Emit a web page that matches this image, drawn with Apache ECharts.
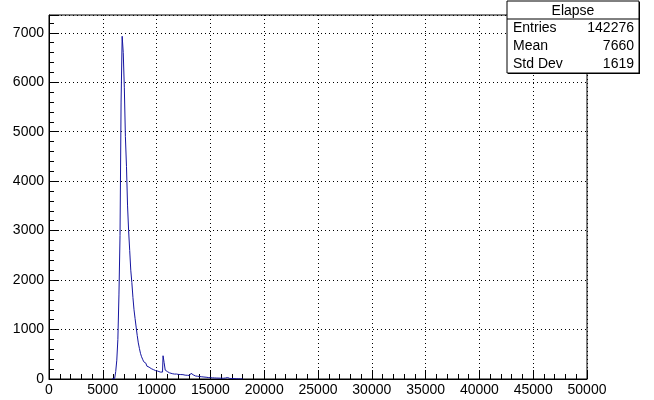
<!DOCTYPE html>
<html>
<head>
<meta charset="utf-8">
<script src="https://cdn.jsdelivr.net/npm/echarts@6/dist/echarts.min.js"></script>
<style>
  html, body { margin: 0; padding: 0; background: #fff; }
  #chart { width: 654px; height: 400px; }
</style>
</head>
<body>
<div id="chart"></div>
<script>
// Histogram "Elapse": bin width 100, bin centres and counts
var binWidth = 100;
var binStart = 5800;
var counts = [
  0, 0, 10, 40, 150, 380, 800, 1700, 2900, 5600,
  6930, 6600, 5900, 4900, 4300, 3500, 3000, 2600, 2200, 1950,
  1650, 1400, 1220, 1050, 880, 730, 620, 520, 450, 400,
  350, 320, 290, 260, 240, 225, 210, 200, 190, 180,
  170, 165, 160, 150, 145, 140, 135, 140, 470, 330,
  180, 150, 130, 125, 115, 110, 108, 105, 100, 98,
  100, 95, 92, 95, 90, 85, 88, 82, 78, 80,
  75, 70, 72, 80, 115, 85, 68, 62, 58, 55,
  52, 50, 48, 45, 42, 40, 38, 36, 33, 30,
  28, 26, 25, 24, 22, 21, 20, 19, 18, 18,
  17, 16, 16, 15, 15, 20, 35, 30, 15, 12,
  10, 10, 9, 8, 7, 6, 6, 5, 4, 3,
  2, 1, 0
];
var binCenters = counts.map(function (_, i) { return binStart + binWidth * (i + 0.5); });

var xTicks = [0, 5000, 10000, 15000, 20000, 25000, 30000, 35000, 40000, 45000, 50000];
var yTicks = [0, 1000, 2000, 3000, 4000, 5000, 6000, 7000];

var statsTitle = 'Elapse';
var statsLabels = ['Entries', 'Mean', 'Std Dev'];
var statsValues = ['142276', '7660', '1619'];

var font = 'Liberation Sans, Arial, sans-serif';

var chart = echarts.init(document.getElementById('chart'), null, { renderer: 'canvas' });

var boxX = 507, boxY = 1, boxW = 132, boxH = 72, titleH = 18;
var graphics = [
  { type: 'rect', shape: { x: boxX + 1, y: boxY + 1, width: boxW, height: boxH },
    style: { fill: '#000' }, z: 100 },
  { type: 'rect', shape: { x: boxX, y: boxY, width: boxW, height: boxH },
    style: { fill: '#fff', stroke: '#000', lineWidth: 1 }, z: 101 },
  { type: 'line', shape: { x1: boxX, y1: boxY + titleH, x2: boxX + boxW, y2: boxY + titleH },
    style: { stroke: '#000', lineWidth: 1 }, z: 102 },
  { type: 'text', x: boxX + boxW / 2, y: boxY + titleH / 2 + 1,
    style: { text: statsTitle, font: '14px ' + font, fill: '#000', align: 'center', verticalAlign: 'middle' }, z: 103 }
];
statsLabels.forEach(function (lab, i) {
  var cy = boxY + titleH + 9 + i * 18;
  graphics.push({ type: 'text', x: boxX + 6, y: cy,
    style: { text: lab, font: '14px ' + font, fill: '#000', align: 'left', verticalAlign: 'middle' }, z: 103 });
  graphics.push({ type: 'text', x: boxX + boxW - 5, y: cy,
    style: { text: statsValues[i], font: '14px ' + font, fill: '#000', align: 'right', verticalAlign: 'middle' }, z: 103 });
});

var option = {
  animation: false,
  backgroundColor: '#fff',
  grid: {
    left: 49, right: 67, top: 15, bottom: 21,
    show: true, borderColor: '#000', borderWidth: 1, backgroundColor: 'transparent'
  },
  xAxis: {
    type: 'value', min: xTicks[0], max: xTicks[xTicks.length - 1], interval: 5000,
    axisLine: { show: true, onZero: false, lineStyle: { color: '#000', width: 1 } },
    axisTick: { show: true, inside: true, length: 9, lineStyle: { color: '#000' } },
    minorTick: { show: true, splitNumber: 5, length: 5, lineStyle: { color: '#000' } },
    axisLabel: { color: '#000', fontSize: 14, fontFamily: font, margin: 4,
      formatter: function (v) { return xTicks.indexOf(v) >= 0 ? String(v) : ''; } },
    splitLine: { show: true, lineStyle: { color: '#000', type: [1, 3], width: 1 } }
  },
  yAxis: {
    type: 'value', min: 0, max: 7360, interval: 1000,
    axisLine: { show: true, onZero: false, lineStyle: { color: '#000', width: 1 } },
    axisTick: { show: true, inside: true, length: 10, lineStyle: { color: '#000' } },
    minorTick: { show: true, splitNumber: 5, length: 5, lineStyle: { color: '#000' } },
    axisLabel: { color: '#000', fontSize: 14, fontFamily: font, margin: 5,
      formatter: function (v) { return yTicks.indexOf(v) >= 0 ? String(v) : ''; } },
    splitLine: { show: true, lineStyle: { color: '#000', type: [1, 3], width: 1 } }
  },
  series: [{
    type: 'line',
    step: 'middle',
    showSymbol: false,
    symbol: 'none',
    data: binCenters.map(function (c, i) { return [c, counts[i]]; }),
    lineStyle: { color: '#1515a0', width: 1 },
    z: 5
  }],
  graphic: graphics
};
chart.setOption(option);
</script>
</body>
</html>
